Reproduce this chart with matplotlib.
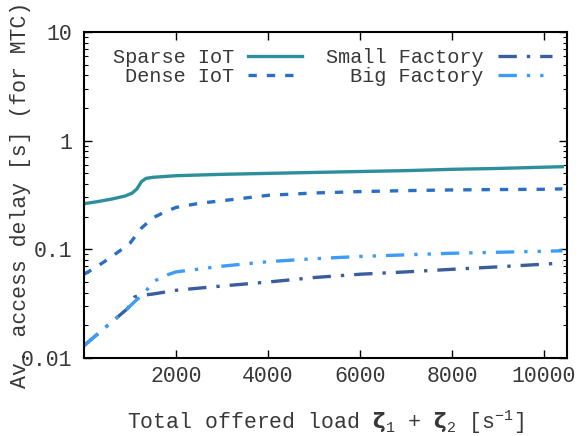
import matplotlib
matplotlib.use("Agg")
import matplotlib.pyplot as plt

plt.rcParams['font.family'] = ['Liberation Mono', 'DejaVu Sans']
plt.rcParams['mathtext.fontset'] = 'custom'
plt.rcParams['mathtext.rm'] = 'Liberation Mono'
plt.rcParams['mathtext.bf'] = 'DejaVu Sans:bold'
plt.rcParams['mathtext.it'] = 'DejaVu Sans:italic'

# total offered load [1/s] and average access delay [s]
sparse_x = [0, 300, 600, 900, 1050, 1150, 1250, 1350, 1500, 2000, 3000, 4000,
            5000, 6000, 7000, 8000, 9000, 10000, 10400]
sparse_y = [0.263, 0.275, 0.29, 0.31, 0.33, 0.36, 0.42, 0.45, 0.46, 0.476, 0.49,
            0.50, 0.51, 0.52, 0.53, 0.545, 0.555, 0.57, 0.576]

dense_x = [0, 250, 500, 750, 1000, 1250, 1500, 1750, 2000, 2500, 3000, 4000,
           5000, 6000, 7000, 8000, 9000, 10000, 10400]
dense_y = [0.059, 0.068, 0.080, 0.095, 0.114, 0.157, 0.195, 0.22, 0.243, 0.265,
           0.28, 0.314, 0.33, 0.34, 0.347, 0.352, 0.355, 0.357, 0.36]

small_x = [0, 250, 500, 750, 950, 1000, 1050, 1100, 1200, 1500, 2000, 3000,
           4000, 5000, 6000, 7000, 8000, 9000, 10000, 10400]
small_y = [0.0130, 0.0160, 0.0197, 0.0242, 0.0286, 0.031, 0.034, 0.0365, 0.0375,
           0.0388, 0.042, 0.046, 0.050, 0.055, 0.059, 0.062, 0.0655, 0.069,
           0.073, 0.075]

big_x = [0, 250, 500, 750, 950, 1100, 1300, 1500, 1700, 1850, 2000, 3000, 4000,
         5000, 6000, 7000, 8000, 9000, 10000, 10400]
big_y = [0.013, 0.016, 0.0197, 0.0242, 0.0286, 0.033, 0.039, 0.050, 0.056, 0.059,
         0.062, 0.070, 0.077, 0.082, 0.086, 0.089, 0.092, 0.094, 0.096, 0.097]

x_ticks = [2000, 4000, 6000, 8000, 10000]
y_ticks = [0.01, 0.1, 1, 10]
y_ticklabels = ['0.01', '0.1', '1', '10']

txt = '#383838'
fs = 15.5

fig = plt.figure(figsize=(5.85, 4.36), dpi=100)
ax = fig.add_axes([84 / 585, 1 - 358 / 436, (567 - 84) / 585, (358 - 32) / 436])

ax.plot(sparse_x, sparse_y, color='#2e8f9c', lw=2.4, label='Sparse IoT')
ax.plot(dense_x, dense_y, color='#2a6fc4', lw=2.4, linestyle=(0, (2.5, 3)),
        label='Dense IoT')
ax.plot(small_x, small_y, color='#3a5da0', lw=2.4,
        linestyle=(0, (5.5, 3, 1, 3)), label='Small Factory')
ax.plot(big_x, big_y, color='#3d9cf5', lw=2.4,
        linestyle=(0, (5.5, 3, 1, 3, 1, 3)), label='Big Factory')

ax.set_yscale('log')
ax.set_xlim(0, 10500)
ax.set_ylim(0.01, 10)
ax.set_xticks(x_ticks)
ax.set_xticklabels([str(v) for v in x_ticks])
ax.set_yticks(y_ticks)
ax.set_yticklabels(y_ticklabels)

ax.tick_params(which='both', direction='in', top=True, right=True,
               labelsize=fs, labelcolor=txt, color='black')
ax.tick_params(which='major', length=6, width=1)
ax.tick_params(which='minor', length=3, width=0.8)
ax.tick_params(axis='x', which='major', pad=6)
ax.tick_params(axis='y', which='major', pad=8.5)
for s in ax.spines.values():
    s.set_linewidth(1.5)

ax.set_xlabel(r'Total offered load $\mathbf{\zeta}_1$ + $\mathbf{\zeta}_2$ [s$^{-1}$]',
              fontsize=fs, color=txt)
ax.xaxis.set_label_coords(0.5, -0.153)
ax.set_ylabel('Av. access delay [s] (for MTC)', fontsize=fs, color=txt)
ax.yaxis.set_label_coords(-0.11, 0.5)

leg = ax.legend(ncol=2, frameon=False, markerfirst=False, fontsize=14.6,
                handlelength=2.65, handletextpad=0.7, columnspacing=1.2,
                labelspacing=0.0, loc='upper right',
                bbox_to_anchor=(0.985, 0.975), borderaxespad=0)
for t in leg.get_texts():
    t.set_color(txt)

fig.savefig('out.png', dpi=100)
